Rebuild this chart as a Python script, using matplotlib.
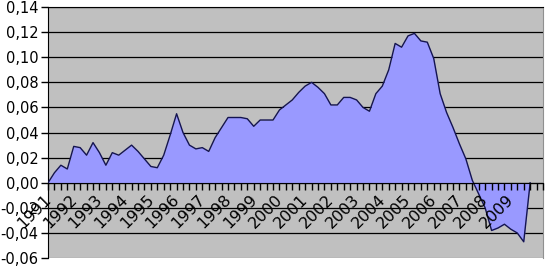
import numpy as np
import matplotlib.pyplot as plt
import matplotlib.transforms as mtransforms
from matplotlib.ticker import FixedLocator

# quarterly values, 1991Q1 .. 2009Q4 (last one back to zero)
values = [0.000, 0.008, 0.014, 0.011, 0.029, 0.028, 0.022, 0.032,
          0.024, 0.014, 0.024, 0.022, 0.026, 0.030, 0.025, 0.019,
          0.013, 0.012, 0.022, 0.038, 0.055, 0.040, 0.030, 0.027,
          0.028, 0.025, 0.036, 0.044, 0.052, 0.052, 0.052, 0.051,
          0.045, 0.050, 0.050, 0.050, 0.058, 0.062, 0.066, 0.072,
          0.077, 0.080, 0.076, 0.071, 0.062, 0.062, 0.068, 0.068,
          0.066, 0.060, 0.057, 0.071, 0.077, 0.090, 0.111, 0.108,
          0.117, 0.119, 0.113, 0.112, 0.099, 0.071, 0.056, 0.044,
          0.031, 0.019, 0.002, -0.009, -0.020, -0.038, -0.036, -0.033,
          -0.037, -0.040, -0.047, 0.000]
years = [str(y) for y in range(1991, 2010)]
yticks = [-0.06, -0.04, -0.02, 0.00, 0.02, 0.04, 0.06, 0.08, 0.10, 0.12, 0.14]
ylabels = ['%.2f' % v for v in yticks]
ylabels = [s.replace('.', ',') for s in ylabels]

fig = plt.figure(figsize=(5.5, 2.7), dpi=100)
ax = fig.add_axes([0.0873, 0.044, 0.9, 0.930])

# x axis crosses at zero (set first: moving the spine resets the ticks)
ax.spines['bottom'].set_position(('data', 0))
ax.spines['bottom'].set_zorder(4)
ax.spines['left'].set_color('black')
ax.spines['top'].set_color('black')
ax.spines['right'].set_color('#909090')

x = np.arange(len(values))
ax.set_facecolor('#c0c0c0')
for v in yticks:
    ax.axhline(v, color='black' if v > -0.05 else '#909090', lw=0.9, zorder=1)
ax.fill_between(x, values, 0, color='#9999ff', lw=0, zorder=2)
ax.plot(x, values, color='#141450', lw=1.0, zorder=3)

ax.set_xlim(0, 77)
ax.set_ylim(-0.06, 0.14)

ax.tick_params(axis='y', direction='out', length=5, width=1, pad=2)
ax.tick_params(axis='x', which='both', direction='out', length=5, width=1,
               labelbottom=False)
ax.set_yticks(yticks)
ax.set_yticklabels(ylabels, fontsize=10.5)
ax.xaxis.set_minor_locator(FixedLocator(range(0, 78)))
ax.xaxis.set_major_locator(FixedLocator(range(0, 73, 4)))
ax.xaxis.set_zorder(5)

# year labels, slanted, hanging just under the zero line
shift = mtransforms.ScaledTranslation(6 / 100, -9 / 100, fig.dpi_scale_trans)
for i, yr in enumerate(years):
    ax.text(i * 4, 0, yr, rotation=45, ha='right', va='top', fontsize=11.5,
            transform=ax.transData + shift, zorder=6, clip_on=False)

plt.savefig('out.png', dpi=100)
